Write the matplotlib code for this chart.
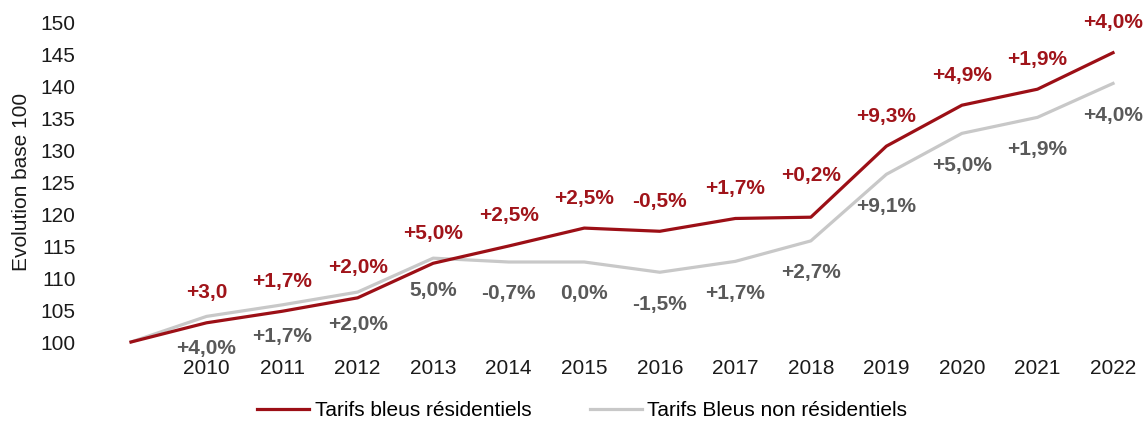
import matplotlib
matplotlib.use("Agg")
import matplotlib.pyplot as plt

plt.rcParams['font.family'] = ['Liberation Sans', 'DejaVu Sans']

# data
years = [2009, 2010, 2011, 2012, 2013, 2014, 2015, 2016, 2017, 2018, 2019, 2020, 2021, 2022]
res = [100, 103.0, 104.8, 106.9, 112.3, 115.0, 117.8, 117.3, 119.3, 119.5, 130.6, 137.0, 139.5, 145.2]
nonres = [100, 104.0, 105.8, 107.8, 113.1, 112.5, 112.5, 110.9, 112.6, 115.8, 126.2, 132.6, 135.1, 140.4]
res_lbl = ['+3,0', '+1,7%', '+2,0%', '+5,0%', '+2,5%', '+2,5%', '-0,5%', '+1,7%',
           '+0,2%', '+9,3%', '+4,9%', '+1,9%', '+4,0%']
nonres_lbl = ['+4,0%', '+1,7%', '+2,0%', '5,0%', '-0,7%', '0,0%', '-1,5%', '+1,7%',
              '+2,7%', '+9,1%', '+5,0%', '+1,9%', '+4,0%']
xticks = list(range(2010, 2023))

RED = '#9c0f16'
GREY = '#c8c8c8'
RED_TXT = '#a0141a'
GREY_TXT = '#595959'
FS = 15

fig = plt.figure(figsize=(11.48, 4.21), dpi=100)
ax = fig.add_axes([131/1148, 1-342/421, (1113-131)/1148, 320/421])

ax.plot(years, res, color=RED, lw=2.3, clip_on=False, zorder=3, label='Tarifs bleus résidentiels')
ax.plot(years, nonres, color=GREY, lw=2.3, clip_on=False, zorder=2, label='Tarifs Bleus non résidentiels')

for i, (x, y) in enumerate(zip(years[1:], res[1:])):
    dy = 42 if x == 2018 else 30
    ax.annotate(res_lbl[i], (x, y), xytext=(0, dy), textcoords='offset pixels',
                ha='center', va='center', fontsize=FS, fontweight='bold', color=RED_TXT)
for i, (x, y) in enumerate(zip(years[1:], nonres[1:])):
    ax.annotate(nonres_lbl[i], (x, y), xytext=(0, -32), textcoords='offset pixels',
                ha='center', va='center', fontsize=FS, fontweight='bold', color=GREY_TXT)

ax.set_xlim(2009, 2022)
ax.set_ylim(100, 150)
ax.set_yticks(range(100, 151, 5))
ax.set_xticks(xticks)
ax.tick_params(axis='both', length=0, labelsize=FS, colors='#1a1a1a')
ax.tick_params(axis='y', pad=40)
ax.tick_params(axis='x', pad=12)
for s in ax.spines.values():
    s.set_visible(False)
ax.set_ylabel('Evolution base 100', fontsize=FS, color='#1a1a1a', labelpad=7)

fig.legend(loc='center', bbox_to_anchor=(0.507, 1-411/421), ncol=2, frameon=False,
           fontsize=FS, handlelength=2.5, handletextpad=0.25, columnspacing=2.8)

fig.savefig('out.png', dpi=100)
